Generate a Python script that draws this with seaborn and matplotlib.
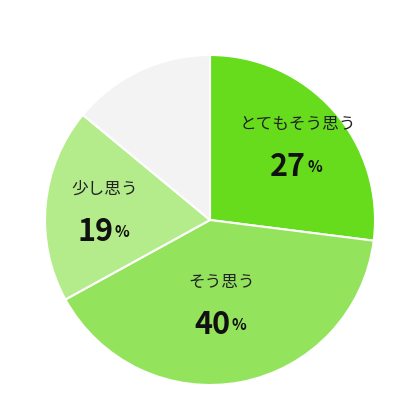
import matplotlib
matplotlib.use("Agg")
import matplotlib.pyplot as plt
import seaborn as sns
import numpy as np

sns.set_theme(style="white")
plt.rcParams['font.family'] = ['Noto Sans CJK JP', 'DejaVu Sans']

categories = ["とてもそう思う", "そう思う", "少し思う", ""]
values = [27, 40, 19, 14]
colors = ["#66dc1c", "#93e45c", "#b4ec8c", "#f3f3f3"]

fig = plt.figure(figsize=(4.2, 4.2), dpi=100)
ax = fig.add_axes([45/420, 35/420, 330/420, 330/420])
wedges, _ = ax.pie(values, colors=colors, startangle=90, counterclock=False,
                   wedgeprops=dict(linewidth=1.5, edgecolor="white"))
ax.set_xlim(-1, 1); ax.set_ylim(-1, 1); ax.set_aspect("equal")

offsets = {0: (0.08, 0.05), 1: (-0.04, 0.08), 2: (-0.04, 0.0)}
for i, (w, lab, v) in enumerate(zip(wedges, categories, values)):
    if not lab:
        continue
    ang = np.deg2rad((w.theta1 + w.theta2) / 2)
    r = 0.6
    x = r * np.cos(ang) + offsets[i][0]
    y = r * np.sin(ang) + offsets[i][1]
    ax.text(x, y + 0.08, lab, ha="center", va="bottom", fontsize=12, color="#222222")
    ax.text(x + 0.05, y - 0.03, str(v), ha="right", va="top", fontsize=22,
            fontweight="bold", color="#111111")
    ax.text(x + 0.06, y - 0.08, "%", ha="left", va="top", fontsize=11,
            fontweight="bold", color="#111111")

fig.savefig("out.png", dpi=100)
